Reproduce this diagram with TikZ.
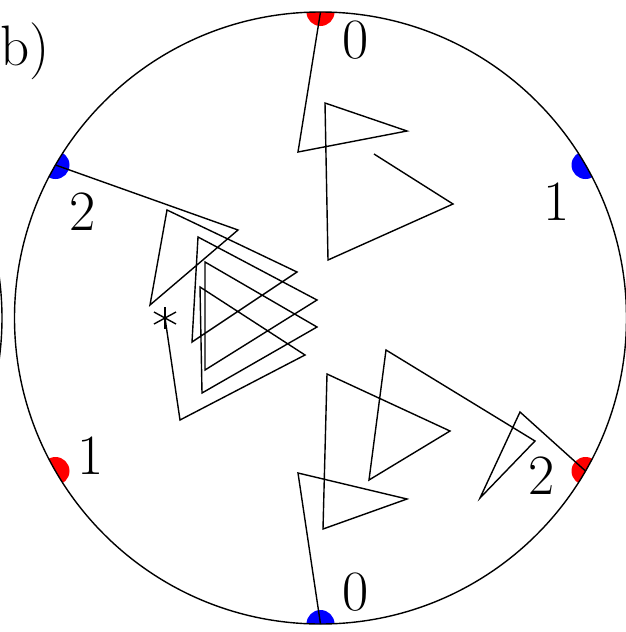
\documentclass[tikz,border=0pt]{standalone}
\begin{document}
\begin{tikzpicture}[x=1pt,y=-1pt,
  trace/.style={line width=1.4pt,line join=miter},
  rim/.style={line width=1.4pt},
  lbl/.style={inner sep=0pt,font=\fontsize{57}{60}\selectfont}]
\useasboundingbox (0,0) rectangle (626,632);
\clip (0,0) rectangle (626,632);
% centre of the disc and the six marked points on its rim
\coordinate (O)  at (320.5,318);
\coordinate (pT) at (320.5,12);    % top (red)
\coordinate (pB) at (320.5,624);   % bottom (blue)
\coordinate (pUL) at (55.5,165);   % upper left (blue)
\coordinate (pUR) at (585.5,165);  % upper right (blue)
\coordinate (pLL) at (55.5,471);   % lower left (red)
\coordinate (pLR) at (585.5,471);  % lower right (red)
% neighbouring panel edge
\coordinate (N) at (-304,318);
\draw[rim] (N) ++(-27:306) arc[start angle=-27,end angle=27,radius=306];
% coloured half dots
\begin{scope}
  \clip (O) circle (306);
  \fill[red]  (pT)  circle (14);
  \fill[red]  (pLL) circle (14);
  \fill[red]  (pLR) circle (14);
  \fill[blue] (pUL) circle (14);
  \fill[blue] (pUR) circle (14);
  \fill[blue] (pB)  circle (14);
\end{scope}
\draw[rim] (O) circle (306);
% top trace
\draw[trace] (pT) -- (298,152) -- (407,131) -- (325,103) -- (328,260)
  -- (453,204) -- (374,154);
% bottom trace
\draw[trace] (pB) -- (298,473) -- (407,499) -- (323,529) -- (327,374)
  -- (450,431) -- (369,480) -- (386,350) -- (535,441) -- (480,498) -- (520,412)
  -- (pLR);
% left trace
\coordinate (star) at (165,318);
\draw[trace] (pUL) -- (238,230) -- (150,305) -- (167,210) -- (297,272)
  -- (192,342) -- (198,237) -- (317,300) -- (205,370) -- (205,262) -- (317,327)
  -- (202,393) -- (200,287) -- (305,355) -- (180,420) -- (star);
% asterisk
\draw[line width=1.4pt] (star) ++(0,-11) -- ++(0,22);
\draw[line width=1.4pt] (star) ++(-11,-6) -- ++(22,12);
\draw[line width=1.4pt] (star) ++(-11,6) -- ++(22,-12);
% labels
\node[lbl,anchor=base west] (panel) at (0,65) {b)};
\node[lbl] (t0) at (356,40) {0};
\node[lbl] (r1) at (557,202) {1};
\node[lbl] (l2) at (83,212) {2};
\node[lbl] (l1) at (91,456) {1};
\node[lbl] (r2) at (542,476) {2};
\node[lbl] (b0) at (356,592) {0};
\end{tikzpicture}
\end{document}
